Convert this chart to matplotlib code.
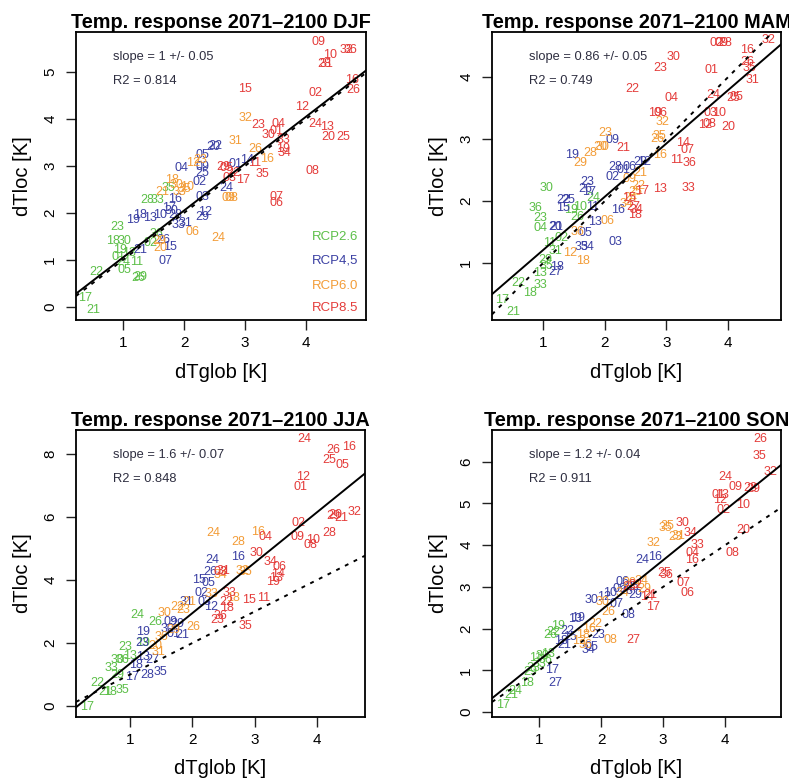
import numpy as np
import matplotlib
matplotlib.use("Agg")
import matplotlib.pyplot as plt

plt.rcParams['font.family'] = ['Liberation Sans', 'DejaVu Sans']

scen_names = ["RCP2.6", "RCP4,5", "RCP6.0", "RCP8.5"]
scen_colors = ["#5cbf48", "#3b40a3", "#f39c37", "#e43c3a"]

seasons = ["DJF", "MAM", "JJA", "SON"]
slopes = [1.0, 0.86, 1.6, 1.2]
slope_err = ["0.05", "0.05", "0.07", "0.04"]
r2 = ["0.814", "0.749", "0.848", "0.911"]
intercepts = [0.05, 0.35, -0.25, 0.04]

# ---- DJF: model number, global warming, local warming ----
djf26_lab = "17 21 22 05 29 26 18 30 23 28 35 11 01 33 24 13 02 36 19".split()
djf26_x = [0.38, 0.51, 0.57, 1.03, 1.28, 1.25, 0.84, 1.02, 0.90, 1.39, 1.74, 1.23, 0.92, 1.56, 1.00, 1.10, 1.45, 1.55, 0.95]
djf26_y = [0.19, -0.06, 0.74, 0.79, 0.64, 0.62, 1.40, 1.40, 1.70, 2.28, 2.53, 0.96, 1.06, 2.28, 0.95, 1.15, 1.35, 1.55, 1.20]

djf45_lab = "20 22 05 09 25 02 14 24 03 12 29 07 15 26 13 31 21 19 33 30 28 17 10 16 18 01 04".split()
djf45_x = [2.48, 2.52, 2.30, 2.31, 2.30, 2.26, 3.03, 2.70, 2.30, 2.34, 2.30, 1.69, 1.77, 1.66, 1.44, 2.02, 1.28, 1.16, 1.90, 1.80, 1.85, 1.75, 1.60, 1.85, 1.28, 2.85, 1.95]
djf45_y = [3.40, 3.42, 3.23, 2.98, 2.85, 2.66, 3.13, 2.53, 2.34, 2.02, 1.91, 0.98, 1.28, 1.43, 1.89, 1.79, 1.21, 1.85, 1.74, 2.05, 1.95, 2.10, 1.95, 2.30, 1.95, 3.05, 2.95]

djf60_lab = "32 31 26 16 23 18 33 35 24 06 20 09 08 12 30 21 10 29".split()
djf60_x = [3.00, 2.84, 3.16, 3.36, 2.26, 1.80, 1.93, 2.00, 2.56, 2.13, 1.61, 2.72, 2.78, 2.15, 1.88, 1.65, 2.05, 1.60]
djf60_y = [4.02, 3.53, 3.36, 3.15, 3.13, 2.70, 2.45, 2.50, 1.47, 1.60, 1.26, 2.32, 2.32, 3.06, 2.60, 2.45, 2.55, 1.40]

djf85_lab = "09 10 32 36 28 31 15 02 16 26 12 23 04 24 13 20 25 30 01 33 34 19 08 35 29 05 17 07 06 11 22 03".split()
djf85_x = [4.20, 4.39, 4.66, 4.72, 4.29, 4.34, 3.00, 4.15, 4.75, 4.77, 3.93, 3.21, 3.54, 4.15, 4.34, 4.36, 4.61, 3.38, 3.52, 3.62, 3.64, 3.62, 4.11, 3.28, 2.64, 2.70, 2.97, 3.52, 3.52, 3.16, 2.80, 2.75]
djf85_y = [5.64, 5.36, 5.47, 5.47, 5.17, 5.17, 4.64, 4.55, 4.83, 4.62, 4.26, 3.87, 3.89, 3.89, 3.83, 3.62, 3.62, 3.66, 3.75, 3.55, 3.28, 3.35, 2.89, 2.83, 2.98, 2.96, 2.70, 2.34, 2.21, 3.06, 2.85, 2.75]

# ---- MAM ----
mam26_lab = "30 36 23 04 33 18 22 17 21 26 24 11 29 13 02 19 31 10 35".split()
mam26_x = [1.06, 0.87, 0.95, 0.95, 0.95, 0.79, 0.60, 0.34, 0.51, 1.55, 1.81, 1.11, 1.03, 0.95, 1.30, 1.45, 1.20, 1.60, 1.05]
mam26_y = [2.21, 1.89, 1.73, 1.56, 0.65, 0.52, 0.68, 0.40, 0.21, 1.74, 2.05, 1.32, 1.05, 0.84, 1.40, 1.85, 1.20, 1.90, 0.95]

mam45_lab = "19 09 28 02 29 12 23 22 25 15 20 21 13 16 05 03 35 34 18 27 17 26 01 11 06".split()
mam45_x = [1.47, 2.13, 2.17, 2.13, 2.57, 2.63, 1.71, 1.32, 1.40, 1.32, 1.19, 1.22, 1.84, 2.22, 1.68, 2.17, 1.62, 1.72, 1.23, 1.19, 1.75, 1.68, 2.30, 1.80, 2.40]
mam45_y = [2.74, 2.98, 2.55, 2.39, 2.63, 2.63, 2.31, 2.02, 2.02, 1.89, 1.58, 1.58, 1.66, 1.85, 1.48, 1.34, 1.26, 1.26, 0.94, 0.85, 2.15, 2.20, 2.50, 1.90, 2.55]

mam60_lab = "32 26 35 16 23 20 30 28 29 21 25 24 22 06 18 12 36 09 34".split()
mam60_x = [2.94, 2.85, 2.88, 2.90, 2.00, 1.92, 1.97, 1.76, 1.60, 2.57, 2.50, 2.42, 2.55, 2.04, 1.65, 1.44, 1.55, 2.40, 2.35]
mam60_y = [3.27, 3.01, 3.05, 2.74, 3.10, 2.87, 2.87, 2.77, 2.61, 2.45, 2.15, 2.05, 2.25, 1.68, 1.03, 1.16, 1.50, 2.35, 1.95]

mam85_lab = "02 09 28 16 32 30 23 01 26 35 31 22 04 24 25 05 19 06 03 10 12 08 20 14 07 36 11 21 13 17 33 27 18 34 15".split()
mam85_x = [3.82, 3.90, 3.95, 4.31, 4.65, 3.11, 2.90, 3.74, 4.32, 4.35, 4.40, 2.44, 3.09, 3.76, 4.08, 4.14, 2.82, 2.90, 3.71, 3.86, 3.62, 3.70, 4.00, 3.27, 3.35, 3.38, 3.17, 2.30, 2.90, 2.60, 3.35, 2.46, 2.49, 2.52, 2.40]
mam85_y = [4.55, 4.55, 4.55, 4.44, 4.60, 4.32, 4.15, 4.11, 4.24, 4.15, 3.95, 3.81, 3.66, 3.71, 3.66, 3.68, 3.42, 3.42, 3.42, 3.42, 3.23, 3.25, 3.19, 2.94, 2.82, 2.61, 2.66, 2.85, 2.19, 2.16, 2.21, 1.90, 1.77, 1.85, 2.05]

# ---- JJA ----
jja26_lab = "17 22 21 18 35 24 26 23 30 36 29 33 13 19".split()
jja26_x = [0.31, 0.48, 0.60, 0.68, 0.87, 1.11, 1.40, 0.92, 0.80, 0.88, 0.79, 0.70, 1.00, 1.20]
jja26_y = [-0.03, 0.73, 0.44, 0.44, 0.51, 2.89, 2.67, 1.87, 1.46, 1.46, 0.98, 1.20, 1.60, 2.00]

jja45_lab = "24 16 26 19 35 23 28 17 21 15 05 02 03 12 09 30 01 13 27 18 31 29".split()
jja45_x = [2.32, 2.74, 2.29, 1.21, 1.48, 1.19, 1.27, 1.03, 1.84, 2.10, 2.25, 2.15, 2.20, 2.30, 1.65, 1.60, 1.70, 1.20, 1.35, 1.10, 1.90, 1.75]
jja45_y = [4.63, 4.73, 4.25, 2.35, 1.08, 2.00, 0.98, 0.92, 2.25, 4.00, 3.90, 3.60, 3.30, 3.15, 2.65, 2.45, 2.30, 1.55, 1.45, 1.30, 3.30, 2.60]

jja60_lab = "24 28 16 35 32 26 18 21 22 23 30 29 36 20 31 33 34".split()
jja60_x = [2.34, 2.74, 3.06, 2.85, 2.80, 2.02, 2.65, 1.95, 1.75, 1.85, 1.55, 1.70, 1.50, 1.40, 1.45, 2.30, 2.45]
jja60_y = [5.49, 5.21, 5.52, 4.25, 4.30, 2.51, 3.43, 3.30, 3.15, 3.05, 2.95, 2.40, 2.20, 1.90, 1.70, 3.55, 4.15]

jja85_lab = "24 26 16 25 05 12 01 02 09 10 08 28 29 20 21 32 30 04 34 13 14 19 15 11 35 23 36 22 33 03 31 06 18".split()
jja85_x = [3.79, 4.26, 4.52, 4.19, 4.40, 3.77, 3.74, 3.71, 3.69, 3.93, 3.90, 4.19, 4.26, 4.30, 4.39, 4.60, 3.02, 3.18, 3.26, 3.34, 3.38, 3.30, 2.90, 3.15, 2.85, 2.40, 2.45, 2.55, 2.60, 2.45, 2.50, 3.40, 2.55]
jja85_y = [8.48, 8.13, 8.22, 7.81, 7.65, 7.27, 6.95, 5.81, 5.37, 5.27, 5.11, 5.49, 6.03, 6.05, 5.97, 6.16, 4.86, 5.37, 4.57, 4.05, 4.20, 3.95, 3.37, 3.43, 2.54, 2.73, 2.85, 3.30, 3.60, 4.25, 4.30, 4.40, 3.10]

# ---- SON ----
son26_lab = "17 21 24 18 22 26 30 33 23 36 29 13 19 11".split()
son26_x = [0.42, 0.55, 0.62, 0.81, 1.23, 1.18, 1.05, 1.00, 0.90, 1.10, 0.85, 1.15, 1.30, 0.95]
son26_y = [0.17, 0.40, 0.50, 0.70, 1.92, 1.85, 1.35, 1.15, 1.05, 1.25, 0.95, 1.40, 2.05, 1.30]

son45_lab = "24 16 06 30 10 08 13 19 34 23 17 27 25 28 29 22 18 21 15 09 12 07 05".split()
son45_x = [2.66, 2.87, 2.35, 1.85, 2.15, 2.44, 1.58, 1.62, 1.79, 1.95, 1.21, 1.26, 2.50, 2.40, 2.55, 1.45, 1.35, 1.40, 1.50, 2.30, 2.05, 2.25, 1.85]
son45_y = [3.65, 3.72, 3.12, 2.69, 2.85, 2.33, 2.23, 2.25, 1.49, 1.85, 1.00, 0.70, 3.00, 2.90, 2.80, 1.95, 1.70, 1.60, 1.80, 2.95, 2.75, 2.60, 1.55]

son60_lab = "35 25 23 31 32 26 08 30 21 24 29 20 16 18 12 22 34 36".split()
son60_x = [3.03, 3.06, 3.19, 3.24, 2.84, 2.11, 2.15, 2.02, 2.55, 2.65, 2.70, 2.45, 1.80, 1.70, 1.65, 1.90, 2.35, 1.75]
son60_y = [4.41, 4.45, 4.20, 4.22, 4.05, 2.40, 1.73, 2.64, 3.05, 3.15, 2.95, 3.10, 2.00, 1.85, 1.70, 2.10, 2.85, 1.60]

son85_lab = "26 35 32 24 09 28 29 01 13 12 10 02 20 08 30 34 33 04 16 36 25 07 06 17 27 14 21 23 22".split()
son85_x = [4.56, 4.55, 4.73, 4.00, 4.16, 4.40, 4.45, 3.89, 3.95, 3.92, 4.29, 3.97, 4.29, 4.11, 3.31, 3.44, 3.55, 3.48, 3.47, 3.06, 3.02, 3.32, 3.40, 2.84, 2.52, 2.74, 2.80, 2.45, 2.55]
son85_y = [6.55, 6.14, 5.76, 5.64, 5.40, 5.37, 5.35, 5.20, 5.20, 5.08, 4.96, 4.84, 4.36, 3.81, 4.53, 4.29, 4.00, 3.81, 3.65, 3.29, 3.32, 3.09, 2.85, 2.52, 1.73, 2.76, 2.80, 3.00, 3.05]

groups = {
    "DJF": [(djf26_lab, djf26_x, djf26_y), (djf45_lab, djf45_x, djf45_y),
            (djf60_lab, djf60_x, djf60_y), (djf85_lab, djf85_x, djf85_y)],
    "MAM": [(mam26_lab, mam26_x, mam26_y), (mam45_lab, mam45_x, mam45_y),
            (mam60_lab, mam60_x, mam60_y), (mam85_lab, mam85_x, mam85_y)],
    "JJA": [(jja26_lab, jja26_x, jja26_y), (jja45_lab, jja45_x, jja45_y),
            (jja60_lab, jja60_x, jja60_y), (jja85_lab, jja85_x, jja85_y)],
    "SON": [(son26_lab, son26_x, son26_y), (son45_lab, son45_x, son45_y),
            (son60_lab, son60_x, son60_y), (son85_lab, son85_x, son85_y)],
}

xlims = [(0.23, 4.98), (0.17, 4.86), (0.13, 4.77), (0.24, 4.90)]
ylims = [(-0.28, 5.85), (0.08, 4.73), (-0.35, 8.76), (-0.12, 6.76)]
yticks = [range(0, 6), range(1, 5), range(0, 9, 2), range(0, 7)]

W, H = 789, 783
rects = [(76, 32, 290, 288), (492, 32, 289, 288), (76, 430, 289, 287), (492, 430, 289, 287)]

fig = plt.figure(figsize=(W / 100, H / 100), dpi=100)

for i, season in enumerate(seasons):
    l, t, w, h = rects[i]
    ax = fig.add_axes([l / W, 1 - (t + h) / H, w / W, h / H])
    ax.set_xlim(xlims[i])
    ax.set_ylim(ylims[i])

    for (lab, xs, ys), col in zip(groups[season], scen_colors):
        for s, xv, yv in zip(lab, xs, ys):
            ax.text(xv, yv, s, color=col, fontsize=9, ha='center', va='center', clip_on=True)

    xx = np.array(xlims[i])
    ax.plot(xx, xx, color='black', lw=1.4, ls=(0, (2, 3)), zorder=5)
    ax.plot(xx, slopes[i] * xx + intercepts[i], color='black', lw=1.4, zorder=6)

    ax.text(0.128, 0.913, "slope = %g +/- %s" % (slopes[i], slope_err[i]),
            transform=ax.transAxes, fontsize=9.3, color='#2e2e40', va='center')
    ax.text(0.128, 0.83, "R2 = %s" % r2[i], transform=ax.transAxes,
            fontsize=9.3, color='#2e2e40', va='center')

    ax.set_xticks([1, 2, 3, 4])
    ax.set_yticks(list(yticks[i]))
    ax.tick_params(direction='out', length=7.5, width=1, labelsize=11, color='#222222')
    ax.tick_params(axis='x', pad=4)
    ax.tick_params(axis='y', pad=6)
    for tl in ax.get_yticklabels():
        tl.set_rotation(90)
        tl.set_va('center')
    for sp in ax.spines.values():
        sp.set_linewidth(1.3)

    ax.set_title("Temp. response 2071\u20132100 " + season, fontsize=14.3,
                 fontweight='bold', pad=2)
    ax.text(0.5, -52 / h, "dTglob [K]", transform=ax.transAxes,
            ha='center', va='center', fontsize=14.5)
    ax.text(-53 / w, 0.5, "dTloc [K]", transform=ax.transAxes, rotation=90,
            ha='center', va='center', fontsize=14.5)

    if season == "DJF":
        for name, col, yy in zip(scen_names, scen_colors, [0.288, 0.205, 0.118, 0.042]):
            ax.text(0.972, yy, name, color=col, fontsize=9.5, ha='right',
                    va='center', transform=ax.transAxes)

fig.savefig("out.png", dpi=100)
